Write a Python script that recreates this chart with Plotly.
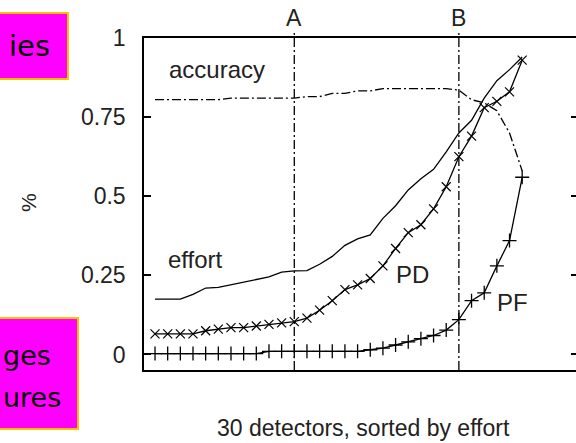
import plotly.graph_objects as go

detectors = list(range(1, 31))

effort = [0.175, 0.175, 0.175, 0.19, 0.21, 0.212, 0.22, 0.228, 0.235, 0.245,
          0.26, 0.264, 0.265, 0.285, 0.31, 0.345, 0.365, 0.378, 0.43, 0.47,
          0.52, 0.555, 0.585, 0.64, 0.70, 0.74, 0.81, 0.865, 0.90, 0.94]

pd_vals = [0.065, 0.065, 0.065, 0.065, 0.075, 0.08, 0.085, 0.085, 0.09, 0.095,
           0.10, 0.104, 0.115, 0.14, 0.17, 0.205, 0.22, 0.24, 0.28, 0.335,
           0.385, 0.41, 0.46, 0.53, 0.625, 0.69, 0.78, 0.80, 0.83, 0.93]

pf_vals = [0.003, 0.003, 0.003, 0.003, 0.003, 0.003, 0.003, 0.003, 0.003, 0.01,
           0.01, 0.01, 0.01, 0.01, 0.01, 0.01, 0.01, 0.015, 0.02, 0.03,
           0.04, 0.05, 0.06, 0.077, 0.11, 0.17, 0.195, 0.28, 0.36, 0.56]

accuracy = [0.805, 0.805, 0.805, 0.805, 0.805, 0.805, 0.81, 0.81, 0.81, 0.81,
            0.81, 0.81, 0.815, 0.815, 0.825, 0.825, 0.833, 0.833, 0.84, 0.84,
            0.84, 0.84, 0.84, 0.84, 0.835, 0.805, 0.795, 0.77, 0.70, 0.58]

cut_names = ["A", "B"]
cut_positions = [12, 25]

y_tick_vals = [0, 0.25, 0.5, 0.75, 1]
y_tick_text = ["0", "0.25", "0.5", "0.75", "1"]

curve_labels = ["accuracy", "effort", "PD", "PF"]
curve_label_x = [5.9, 4.16, 21.3, 29.2]
curve_label_y = [0.90, 0.30, 0.252, 0.163]

x_title = "30 detectors, sorted by effort"
y_title = "%"
box_texts = [["ies"], ["ges", "ures"]]

FONT = "Liberation Sans, Arial, sans-serif"
BOXFONT = "DejaVu Sans, Verdana, sans-serif"
INK = "#222222"
DASHDOT = "9px,3px,2px,3px"

fig = go.Figure()

fig.add_trace(go.Scatter(x=detectors, y=effort, mode="lines",
                         line=dict(color="black", width=1.3), showlegend=False))
fig.add_trace(go.Scatter(x=detectors, y=pd_vals, mode="lines+markers",
                         line=dict(color="black", width=1.3),
                         marker=dict(symbol="x-thin", size=9, color="black",
                                     line=dict(color="black", width=1.2)),
                         showlegend=False))
fig.add_trace(go.Scatter(x=detectors, y=pf_vals, mode="lines+markers",
                         line=dict(color="black", width=1.3),
                         marker=dict(symbol="cross-thin", size=10, color="black",
                                     line=dict(color="black", width=1.3)),
                         showlegend=False))
fig.add_trace(go.Scatter(x=detectors, y=accuracy, mode="lines",
                         line=dict(color="black", width=1.3, dash=DASHDOT),
                         showlegend=False))
# empty trace so the mirrored right-hand tick axis is drawn
fig.add_trace(go.Scatter(x=[], y=[], yaxis="y2", showlegend=False, hoverinfo="skip"))

for name, pos in zip(cut_names, cut_positions):
    fig.add_vline(x=pos, y0=0, y1=1.02,
                  line=dict(color="black", width=1.3, dash=DASHDOT))
    fig.add_annotation(x=pos, y=1.06, xref="x", yref="paper", text=name,
                       showarrow=False, font=dict(family=FONT, size=23, color=INK),
                       xanchor="center", yanchor="middle")

for t, lx, ly in zip(curve_labels, curve_label_x, curve_label_y):
    fig.add_annotation(x=lx, y=ly, xref="x", yref="y", text=t, showarrow=False,
                       font=dict(family=FONT, size=24, color=INK),
                       xanchor="center", yanchor="middle")

fig.add_annotation(x=0.509, y=-0.1747, xref="paper", yref="paper", text=x_title,
                   showarrow=False, font=dict(family=FONT, size=23, color=INK),
                   xanchor="center", yanchor="middle")
fig.add_annotation(x=-0.2685, y=0.503, xref="paper", yref="paper", text=y_title,
                   textangle=-90, showarrow=False,
                   font=dict(family=FONT, size=21, color=INK),
                   xanchor="center", yanchor="middle")

# magenta callout boxes (partially outside the picture)
fig.add_shape(type="rect", xref="paper", yref="paper",
              x0=-0.36, x1=-0.176, y0=0.8765, y1=1.0753,
              fillcolor="#FF00FF", line=dict(color="#FFC000", width=2), layer="below")
fig.add_shape(type="rect", xref="paper", yref="paper",
              x0=-0.36, x1=-0.1528, y0=-0.1777, y1=0.1566,
              fillcolor="#FF00FF", line=dict(color="#FFC000", width=2), layer="below")
fig.add_annotation(x=-0.318, y=0.975, xref="paper", yref="paper", text=box_texts[0][0],
                   showarrow=False, font=dict(family=BOXFONT, size=29, color="black"),
                   xanchor="left", yanchor="middle")
fig.add_annotation(x=-0.331, y=0.045, xref="paper", yref="paper", text=box_texts[1][0],
                   showarrow=False, font=dict(family=BOXFONT, size=27, color="black"),
                   xanchor="left", yanchor="middle")
fig.add_annotation(x=-0.331, y=-0.082, xref="paper", yref="paper", text=box_texts[1][1],
                   showarrow=False, font=dict(family=BOXFONT, size=27, color="black"),
                   xanchor="left", yanchor="middle")

fig.update_layout(
    width=576, height=443,
    margin=dict(l=144, r=0, t=38, b=73),
    paper_bgcolor="white", plot_bgcolor="white",
    showlegend=False,
    xaxis=dict(range=[0.13, 34.25], showgrid=False, zeroline=False,
               showticklabels=False, ticks="", showline=True, linecolor="black",
               linewidth=1.5, mirror=True),
    yaxis=dict(range=[-0.049, 1.0], showgrid=False, zeroline=False,
               tickvals=y_tick_vals, ticktext=y_tick_text, ticks="inside",
               ticklen=7, tickwidth=1.5, tickcolor="black",
               showline=True, linecolor="black", linewidth=1.5,
               tickfont=dict(family=FONT, size=23, color=INK),
               ticklabelstandoff=12),
    yaxis2=dict(range=[-0.049, 1.0], overlaying="y", side="right",
                showgrid=False, zeroline=False, showline=False,
                tickvals=y_tick_vals, ticks="inside", ticklen=5, tickwidth=1.5,
                tickcolor="black", showticklabels=False),
)

fig.write_html(
    "out.html",
    config={"displayModeBar": False},
    post_script="document.body.style.margin='0';document.body.style.overflow='hidden';",
)
